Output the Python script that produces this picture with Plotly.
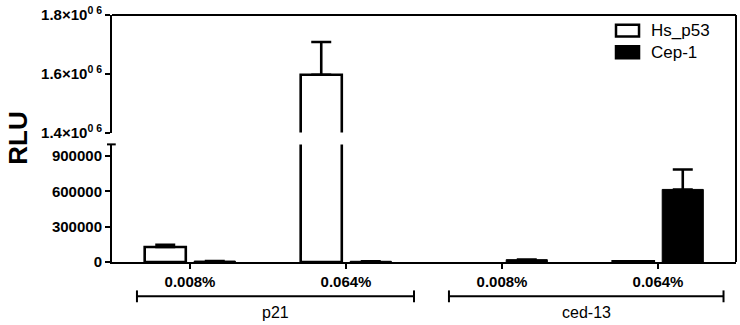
import plotly.graph_objects as go

# ---- data ----
positions = [0, 1, 2, 3]
conc_labels = ["0.008%", "0.064%", "0.008%", "0.064%"]
group_names = ["p21", "ced-13"]
hs_p53 = [128000, 1597000, None, 5000]
hs_p53_err = [18000, 112000, None, None]
cep1 = [8000, 6000, 20000, 617000]
cep1_err = [None, None, None, 169000]
series_names = ["Hs_p53", "Cep-1"]

low_ticks = [0, 300000, 600000, 900000]
low_ticktext = ["<b>0</b>", "<b>300000</b>", "<b>600000</b>", "<b>900000</b>"]
high_ticks = [1400000, 1600000, 1800000]
high_ticktext = ["<b>1.4×10<sup>0 6</sup></b>", "<b>1.6×10<sup>0 6</sup></b>", "<b>1.8×10<sup>0 6</sup></b>"]

FONT = "Liberation Sans, Arial, sans-serif"

hs_minus = [0 if e is not None else None for e in hs_p53_err]
cep_minus = [0 if e is not None else None for e in cep1_err]

fig = go.Figure()

for xa, ya in (("x", "y"), ("x2", "y2")):
    fig.add_trace(go.Bar(
        x=positions, y=hs_p53, name=series_names[0], xaxis=xa, yaxis=ya,
        marker=dict(color="white", line=dict(color="black", width=2.6)),
        error_y=dict(type="data", array=hs_p53_err, arrayminus=hs_minus, symmetric=False,
                     color="black", thickness=2.6, width=10),
        showlegend=False,
    ))
    fig.add_trace(go.Bar(
        x=positions, y=cep1, name=series_names[1], xaxis=xa, yaxis=ya,
        marker=dict(color="black", line=dict(color="black", width=1)),
        error_y=dict(type="data", array=cep1_err, arrayminus=cep_minus, symmetric=False,
                     color="black", thickness=2.6, width=10),
        showlegend=False,
    ))

H_LOW = 120 / 252
H_HIGH0 = 132 / 252

fig.update_layout(
    width=740, height=325,
    margin=dict(l=112, r=4, t=10, b=63),
    plot_bgcolor="white", paper_bgcolor="white",
    barmode="group", bargap=0.365, bargroupgap=0.17,
    font=dict(family=FONT, color="black"),
    xaxis=dict(
        domain=[0, 1], anchor="y", range=[-0.5, 3.5],
        tickvals=positions, ticktext=["<b>%s</b>" % t for t in conc_labels],
        tickfont=dict(size=15, family=FONT, color="black"),
        showline=True, linecolor="black", linewidth=2,
        ticks="outside", ticklen=5, tickwidth=2, tickcolor="black",
        showgrid=False, zeroline=False,
    ),
    xaxis2=dict(domain=[0, 1], anchor="y2", range=[-0.5, 3.5], matches="x",
                visible=False, showgrid=False, zeroline=False),
    yaxis=dict(
        domain=[0, H_LOW], anchor="x", range=[0, 1000000],
        tickvals=low_ticks, ticktext=low_ticktext,
        tickfont=dict(size=15, family=FONT, color="black"),
        showline=True, linecolor="black", linewidth=2,
        ticks="outside", ticklen=5, tickwidth=2, tickcolor="black",
        showgrid=False, zeroline=False,
    ),
    yaxis2=dict(
        domain=[H_HIGH0, 1], anchor="x2", range=[1400000, 1800800],
        tickvals=high_ticks, ticktext=high_ticktext,
        tickfont=dict(size=15, family=FONT, color="black"),
        ticklabeloverflow="allow",
        showline=True, linecolor="black", linewidth=2,
        ticks="outside", ticklen=5, tickwidth=2, tickcolor="black",
        showgrid=False, zeroline=False,
    ),
    showlegend=False,
)

shapes = []
# frame: top and right
shapes.append(dict(type="line", xref="paper", yref="paper", x0=0, x1=1, y0=1, y1=1,
                   line=dict(color="black", width=2)))
shapes.append(dict(type="line", xref="paper", yref="paper", x0=1, x1=1, y0=0, y1=1,
                   line=dict(color="black", width=2)))
# cap at top of lower axis segment
shapes.append(dict(type="line", xref="paper", yref="paper", x0=-0.008, x1=0.006,
                   y0=H_LOW, y1=H_LOW, line=dict(color="black", width=2)))

# group brackets
brackets = [(-0.34, 1.436), (1.66, 3.42)]
by = -0.139
for (a, b), name in zip(brackets, group_names):
    shapes.append(dict(type="line", xref="x", yref="paper", x0=a, x1=b, y0=by, y1=by,
                       line=dict(color="black", width=2)))
    for xx in (a, b):
        shapes.append(dict(type="line", xref="x", yref="paper", x0=xx, x1=xx,
                           y0=by - 0.024, y1=by + 0.024, line=dict(color="black", width=2)))
    fig.add_annotation(x=(a + b) / 2, y=-0.206, xref="x", yref="paper", text=name,
                       showarrow=False, font=dict(size=16, family=FONT, color="black"),
                       xanchor="center", yanchor="middle")

# legend (manual)
leg = [(series_names[0], "white", 0.9365), (series_names[1], "black", 0.849)]
for name, col, yc in leg:
    shapes.append(dict(type="rect", xref="paper", yref="paper",
                       x0=0.8077, x1=0.8446, y0=yc - 0.024, y1=yc + 0.024,
                       fillcolor=col, line=dict(color="black", width=2.5)))
    fig.add_annotation(x=0.8606, y=yc, xref="paper", yref="paper", text=name,
                       showarrow=False, font=dict(size=17, family=FONT, color="black"),
                       xanchor="left", yanchor="middle")

fig.update_layout(shapes=shapes)

# y-axis title
fig.add_annotation(x=-0.152, y=0.5, xref="paper", yref="paper", text="<b>RLU</b>",
                   textangle=-90, showarrow=False,
                   font=dict(size=26, family=FONT, color="black"),
                   xanchor="center", yanchor="middle")

fig.write_html("out.html")
